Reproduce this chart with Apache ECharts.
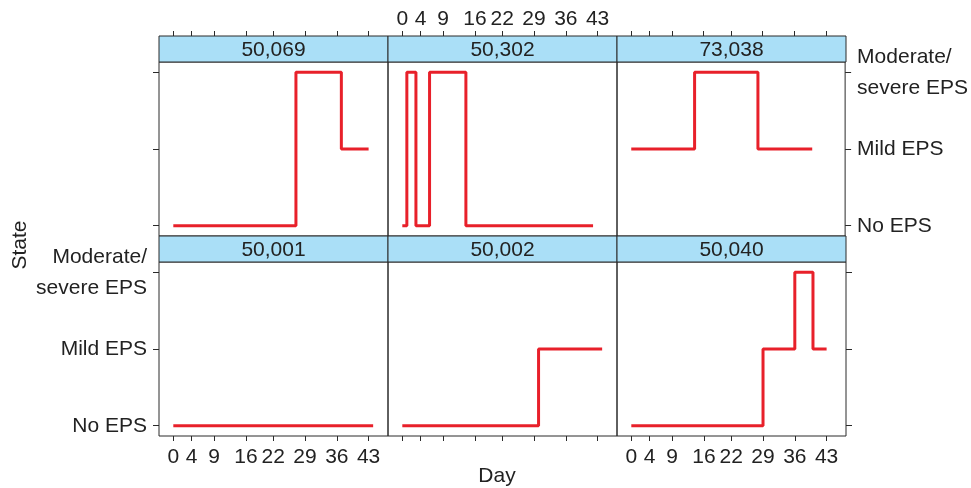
<!DOCTYPE html>
<html>
<head>
<meta charset="utf-8">
<script src="https://cdn.jsdelivr.net/npm/echarts@6/dist/echarts.min.js"></script>
<style>
html,body{margin:0;padding:0;background:#fff;}
#chart{width:971px;height:488px;}
</style>
</head>
<body>
<div id="chart"></div>
<script>
// ---- data ----
const dayTicks = [0, 4, 9, 16, 22, 29, 36, 43];
const stateTicks = [0, 1, 2];
const stateLabels = ['No EPS', 'Mild EPS', 'Moderate/\nsevere EPS'];
const patientIds = ['50,069', '50,302', '73,038', '50,001', '50,002', '50,040'];

const p50069Days = [0, 27, 37, 43];
const p50069States = [0, 2, 1, 1];
const p50302Days = [0, 1, 3, 6, 14, 42];
const p50302States = [0, 2, 0, 2, 0, 0];
const p73038Days = [0, 14, 28, 40];
const p73038States = [1, 2, 1, 1];
const p50001Days = [0, 44];
const p50001States = [0, 0];
const p50002Days = [0, 30, 44];
const p50002States = [0, 1, 1];
const p50040Days = [0, 29, 36, 40, 43];
const p50040States = [0, 1, 2, 1, 1];

const panelDays = [p50069Days, p50302Days, p73038Days, p50001Days, p50002Days, p50040Days];
const panelStates = [p50069States, p50302States, p73038States, p50001States, p50002States, p50040States];

// ---- layout ----
const FONT = 'Liberation Sans, Arial, Helvetica, sans-serif';
const FS = 21;
const colLeft = [159, 388, 617];
const colW = 229;
const stripTop = [36, 236];
const stripH = 26;
const plotH = 174;
const XMIN = -3.15, XMAX = 47.27;
const YMIN = -0.134, YMAX = 2.134;
const lineColor = '#e8202a';
const axisColor = '#2a2a2a';
const textColor = '#222';

const grids = [], xAxes = [], yAxes = [], series = [], graphics = [];

for (let i = 0; i < 6; i++) {
  const r = Math.floor(i / 3), c = i % 3;
  grids.push({
    left: colLeft[c], top: stripTop[r] + stripH, width: colW, height: plotH,
    show: true, borderColor: axisColor, borderWidth: 1, backgroundColor: 'transparent'
  });
  const showXLabel = (r === 0 && c === 1) || (r === 1 && c !== 1);
  xAxes.push({
    gridIndex: i, type: 'value', min: XMIN, max: XMAX,
    position: r === 0 ? 'top' : 'bottom',
    offset: r === 0 ? stripH : 0,
    axisLine: {show: false, onZero: false},
    axisTick: {show: true, customValues: dayTicks, length: 5, lineStyle: {color: axisColor, width: 1}},
    axisLabel: {show: showXLabel, customValues: dayTicks, fontSize: FS, color: textColor,
      fontFamily: FONT, margin: r === 0 ? 6 : 11},
    splitLine: {show: false}
  });
  const showYLabel = (c === 0 && r === 1) || (c === 2 && r === 0);
  yAxes.push({
    gridIndex: i, type: 'value', min: YMIN, max: YMAX,
    show: c !== 1,
    position: c === 2 ? 'right' : 'left',
    axisLine: {show: false, onZero: false},
    axisTick: {show: true, customValues: stateTicks, length: 6, lineStyle: {color: axisColor, width: 1}},
    axisLabel: {show: showYLabel, customValues: stateTicks, fontSize: FS, color: textColor,
      fontFamily: FONT, margin: 12, lineHeight: 31,
      formatter: v => stateLabels[Math.round(v)]},
    splitLine: {show: false}
  });
  series.push({
    type: 'line', xAxisIndex: i, yAxisIndex: i, step: 'end',
    showSymbol: false, symbol: 'none', animation: false,
    lineStyle: {color: lineColor, width: 3},
    data: panelDays[i].map((d, k) => [d, panelStates[i][k]])
  });
  graphics.push({
    type: 'rect', z: 100,
    shape: {x: colLeft[c], y: stripTop[r], width: colW, height: stripH},
    style: {fill: '#aadff7', stroke: axisColor, lineWidth: 1}
  });
  graphics.push({
    type: 'text', z: 101,
    x: colLeft[c] + colW / 2, y: stripTop[r] + stripH / 2 + 1,
    style: {text: patientIds[i], font: FS + 'px ' + FONT, fill: textColor,
      align: 'center', verticalAlign: 'middle'}
  });
}

graphics.push({
  type: 'text', x: 20, y: 245, rotation: Math.PI / 2,
  style: {text: 'State', font: FS + 'px ' + FONT, fill: textColor, align: 'center', verticalAlign: 'middle'}
});
graphics.push({
  type: 'text', x: 497, y: 476,
  style: {text: 'Day', font: FS + 'px ' + FONT, fill: textColor, align: 'center', verticalAlign: 'middle'}
});

const chart = echarts.init(document.getElementById('chart'), null, {renderer: 'canvas'});
chart.setOption({
  animation: false,
  backgroundColor: '#fff',
  grid: grids,
  xAxis: xAxes,
  yAxis: yAxes,
  series: series,
  graphic: graphics
});
</script>
</body>
</html>
